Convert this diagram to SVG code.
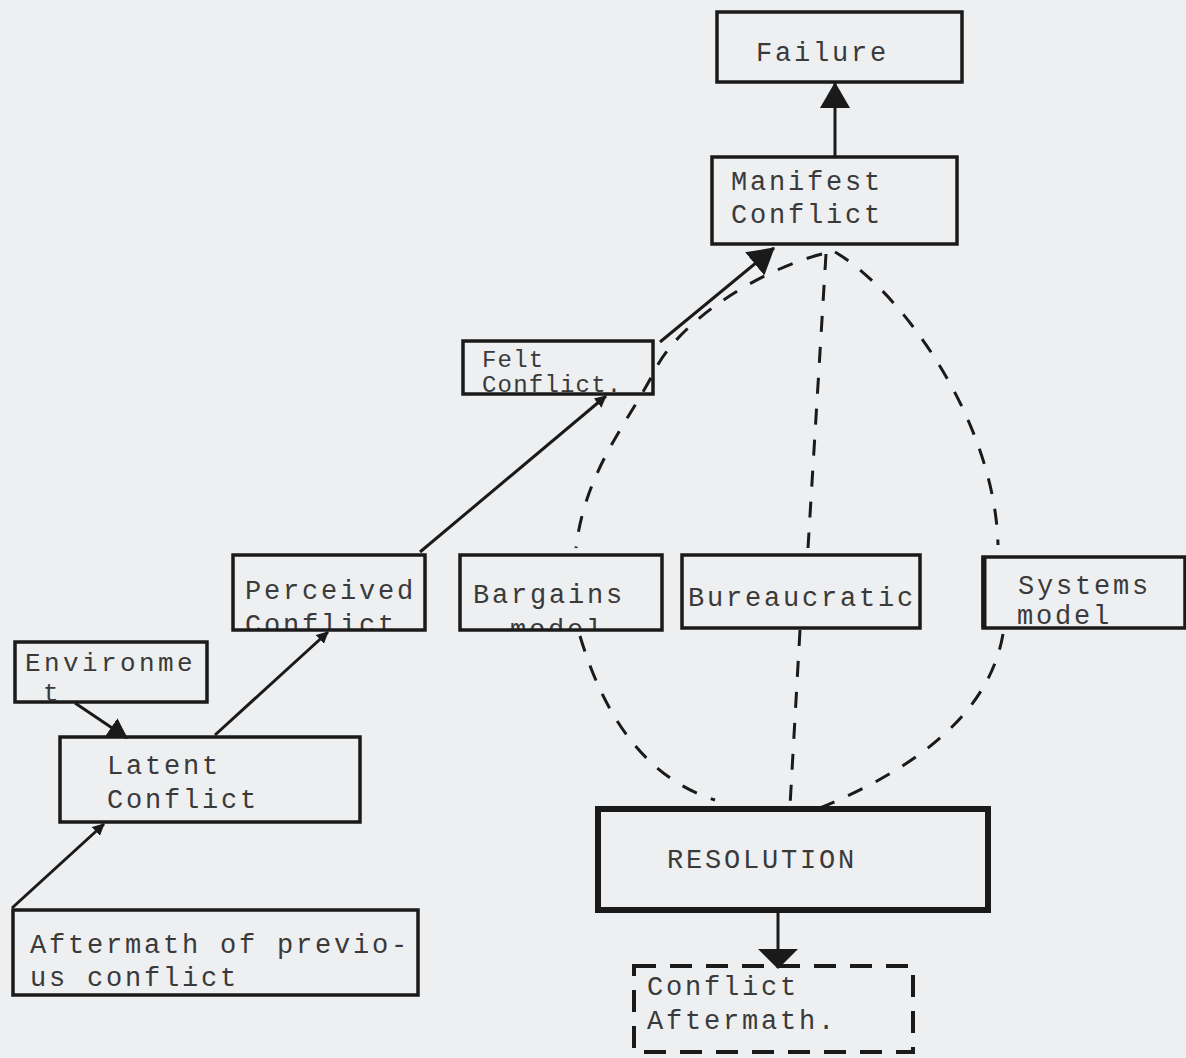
<svg xmlns="http://www.w3.org/2000/svg" width="1186" height="1058" viewBox="0 0 1186 1058">
<style>
.bg{fill:#eeeff1}
.box{fill:none;stroke:#1a1a1a;stroke-width:3.5}
.thick{fill:none;stroke:#1a1a1a;stroke-width:6}
.dbox{fill:none;stroke:#1a1a1a;stroke-width:4;stroke-dasharray:22 14}
.txt{font-family:"Liberation Mono","DejaVu Sans Mono",monospace;font-size:27px;letter-spacing:2.8px;fill:#3a3a3a}
.sm{font-size:24px;letter-spacing:1.2px}
.env{font-size:26px;letter-spacing:3.4px}
.arrow{fill:none;stroke:#1a1a1a;stroke-width:3}
.dash{fill:none;stroke:#1a1a1a;stroke-width:3;stroke-dasharray:16 15}
</style>
<defs>
<marker id="ahBig" viewBox="0 0 26 30" markerWidth="26" markerHeight="30" refX="25" refY="15" orient="auto" markerUnits="userSpaceOnUse">
<path d="M0,0 L26,15 L0,30 z" fill="#1a1a1a"/>
</marker>
<marker id="ahWide" viewBox="0 0 20 40" markerWidth="20" markerHeight="40" refX="19" refY="20" orient="auto" markerUnits="userSpaceOnUse">
<path d="M0,0 L20,20 L0,40 z" fill="#1a1a1a"/>
</marker>
<marker id="ahMid" viewBox="0 0 20 22" markerWidth="20" markerHeight="22" refX="19" refY="11" orient="auto" markerUnits="userSpaceOnUse">
<path d="M0,0 L20,11 L0,22 z" fill="#1a1a1a"/>
</marker>
<marker id="ahSmall" viewBox="0 0 12 12" markerWidth="12" markerHeight="12" refX="11" refY="6" orient="auto" markerUnits="userSpaceOnUse">
<path d="M0,0 L12,6 L0,12 z" fill="#1a1a1a"/>
</marker>
<clipPath id="clipPer"><rect x="233" y="555" width="192" height="74"/></clipPath>
<clipPath id="clipBar"><rect x="460" y="555" width="202" height="74"/></clipPath>
</defs>
<rect class="bg" x="0" y="0" width="1186" height="1058"/>

<g id="connectors">
<line class="arrow" x1="835" y1="157" x2="835" y2="83" marker-end="url(#ahBig)"/>
<line class="arrow" x1="660" y1="342" x2="774" y2="248" marker-end="url(#ahBig)"/>
<line class="arrow" x1="420" y1="552" x2="606" y2="396" marker-end="url(#ahSmall)"/>
<line class="arrow" x1="215" y1="735" x2="328" y2="632" marker-end="url(#ahSmall)"/>
<line class="arrow" x1="75" y1="703" x2="127" y2="738" marker-end="url(#ahMid)"/>
<line class="arrow" x1="12" y1="908" x2="104" y2="824" marker-end="url(#ahSmall)"/>
<line class="arrow" x1="778" y1="912" x2="778" y2="968" marker-end="url(#ahWide)"/>
<path class="dash" d="M822,254 C760,270 680,320 655,370 S585,470 576,548"/>
<path class="dash" d="M826,254 L808,548"/>
<path class="dash" d="M835,252 C900,290 995,420 998,545"/>
<path class="dash" d="M580,636 Q620,770 715,800"/>
<path class="dash" d="M800,630 L790,806"/>
<path class="dash" d="M1003,634 Q985,740 820,808"/>
</g>

<g id="failure">
<rect class="box" x="717" y="12" width="245" height="70"/>
<text class="txt" x="756" y="61">Failure</text>
</g>

<g id="manifest">
<rect class="box" x="712" y="157" width="245" height="87"/>
<text class="txt" x="731" y="190">Manifest</text>
<text class="txt" x="731" y="223">Conflict</text>
</g>

<g id="felt">
<text class="txt sm" x="482" y="367">Felt</text>
<text class="txt sm" x="482" y="392">Conflict.</text>
<rect class="box" x="463" y="341" width="190" height="53"/>
</g>

<g id="perceived">
<text class="txt" x="245" y="599">Perceived</text>
<text class="txt" x="245" y="633" clip-path="url(#clipPer)">Conflict</text>
<rect class="box" x="233" y="555" width="192" height="75"/>
</g>

<g id="bargains">
<text class="txt" x="473" y="603">Bargains</text>
<text class="txt" x="510" y="638" clip-path="url(#clipBar)">model</text>
<rect class="box" x="460" y="555" width="202" height="75"/>
</g>

<g id="bureaucratic">
<rect class="box" x="682" y="555" width="238" height="73"/>
<text class="txt" x="688" y="606">Bureaucratic</text>
</g>

<g id="systems">
<rect class="box" x="983" y="557" width="202" height="71"/>
<line x1="984" y1="557" x2="984" y2="628" stroke="#1a1a1a" stroke-width="5"/>
<text class="txt" x="1018" y="594">Systems</text>
<text class="txt" x="1017" y="624">model</text>
</g>

<g id="environment">
<rect class="box" x="15" y="642" width="192" height="60"/>
<text class="txt env" x="25" y="671">Environme</text>
<text class="txt env" x="43" y="701">t</text>
</g>

<g id="latent">
<rect class="box" x="60" y="737" width="300" height="85"/>
<text class="txt" x="107" y="774">Latent</text>
<text class="txt" x="107" y="808">Conflict</text>
</g>

<g id="aftermath-prev">
<rect class="box" x="13" y="910" width="405" height="85"/>
<text class="txt" x="30" y="953">Aftermath of previo-</text>
<text class="txt" x="30" y="986">us conflict</text>
</g>

<g id="resolution">
<rect class="thick" x="598" y="809" width="390" height="101"/>
<text class="txt" x="667" y="868">RESOLUTION</text>
</g>

<g id="conflict-aftermath">
<rect class="dbox" x="634" y="966" width="279" height="86"/>
<text class="txt" x="647" y="995">Conflict</text>
<text class="txt" x="647" y="1029">Aftermath.</text>
</g>
</svg>
